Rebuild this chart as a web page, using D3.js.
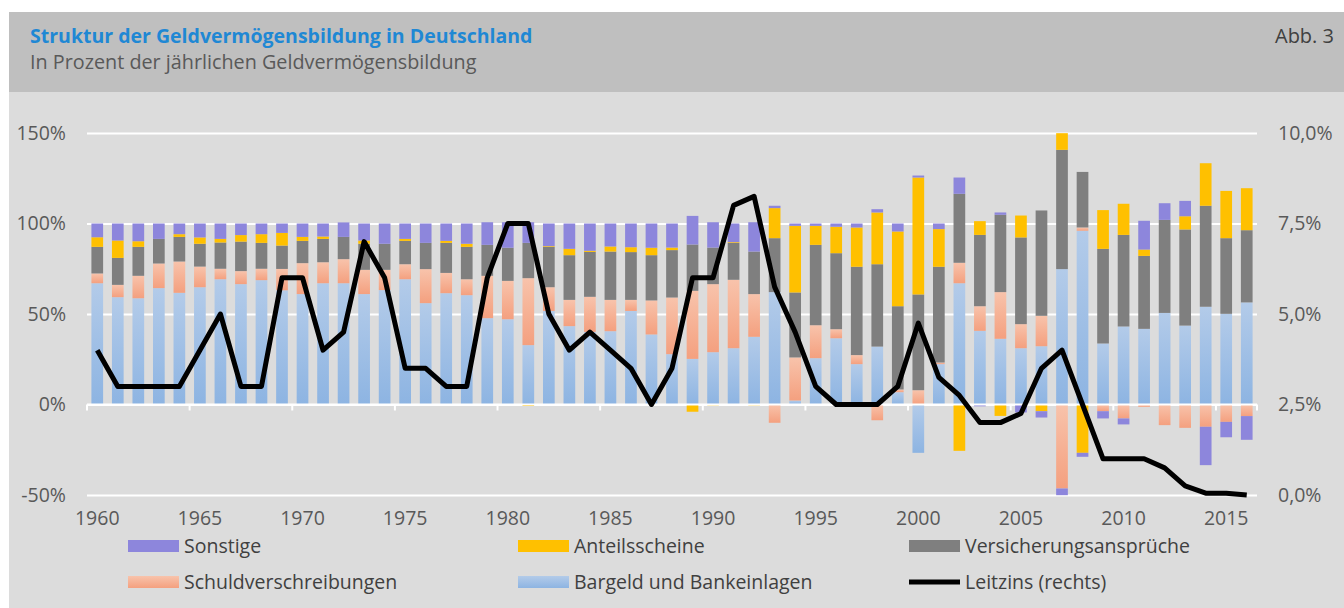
<!DOCTYPE html>
<html>
<head>
<meta charset="utf-8">
<script src="https://cdn.jsdelivr.net/npm/d3@7"></script>
<style>
  html, body { margin: 0; padding: 0; background: #fff; }
  svg { display: block; font-family: 'Open Sans', sans-serif; }
</style>
</head>
<body>
<div id="chart"></div>
<script>
// Data
const years = d3.range(1960, 2017);

const bargeld = [67.0, 59.3, 58.7, 64.3, 61.7, 64.8, 69.2, 66.5, 68.7, 63.1,
  61.0, 67.0, 67.0, 61.0, 63.2, 69.2, 56.0, 61.5, 60.4, 47.7,
  47.1, 32.8, 51.7, 43.3, 40.1, 40.5, 51.7, 38.7, 27.8, 25.2,
  28.9, 31.1, 37.4, 62.1, 2.2, 25.6, 36.6, 22.3, 32.0, 6.8,
  -26.7, 22.3, 67.0, 40.7, 36.3, 31.1, 32.2, 74.8, 96.0, 33.7,
  43.1, 41.8, 50.6, 43.6, 54.0, 50.1, 56.4];

const schuldverschreibungen = [5.4, 6.8, 12.4, 13.6, 17.3, 11.4, 5.8, 7.2, 6.3, 11.8,
  17.1, 11.6, 13.3, 13.4, 11.2, 8.3, 18.8, 11.2, 8.8, 23.4,
  21.2, 37.0, 13.1, 14.5, 19.4, 17.3, 6.1, 18.8, 31.3, 37.6,
  37.6, 37.8, 23.6, -10.1, 23.8, 18.2, 5.0, 5.0, -8.7, 1.5,
  7.9, 0.9, 11.3, 13.6, 25.8, 13.3, 16.8, -46.4, 1.8, -3.7,
  -7.7, -1.3, -11.4, -12.9, -12.3, -9.6, -6.4];

const versicherung = [14.7, 14.9, 16.0, 13.6, 13.6, 12.6, 14.5, 16.3, 14.3, 12.9,
  12.3, 12.9, 12.3, 14.4, 14.4, 12.9, 14.5, 16.6, 17.9, 17.1,
  18.3, 19.5, 22.3, 24.7, 24.8, 26.7, 26.4, 25.0, 26.2, 25.6,
  20.2, 20.4, 23.5, 29.8, 35.9, 44.4, 42.0, 48.8, 45.5, 46.0,
  52.9, 52.9, 38.1, 39.4, 42.7, 47.9, 58.2, 65.9, 30.7, 52.3,
  50.6, 40.3, 51.4, 53.1, 55.8, 41.8, 39.9];

const anteilsscheine = [5.3, 9.6, 3.1, 0, 1.5, 3.5, 2.0, 3.6, 4.8, 7.0,
  2.2, 1.3, 0, 1.8, 0, 1.1, 0, 1.1, 1.7, 0,
  0, -0.8, 0.4, 3.5, 0.6, 2.8, 2.7, 4.1, 1.4, -4.0,
  -0.5, 0.4, -0.5, 16.6, 36.8, 10.5, 14.6, 21.7, 28.6, 41.3,
  64.6, 20.8, -25.6, 7.6, -6.3, 12.1, -3.7, 9.2, -26.7, 21.4,
  17.2, 3.5, 0, 7.3, 23.5, 26.1, 23.2];

const sonstige = [7.6, 9.4, 9.8, 8.5, 5.9, 7.7, 8.5, 6.4, 5.9, 5.2,
  7.4, 7.2, 8.0, 9.4, 11.2, 8.5, 10.7, 9.6, 11.2, 12.5,
  14.1, 11.4, 12.5, 14.0, 15.1, 12.7, 13.1, 13.4, 13.3, 15.8,
  14.0, 10.3, 16.2, 1.3, 1.3, 1.3, 1.8, 2.2, 1.8, 4.4,
  1.1, 3.1, 9.0, -1.0, 1.3, -4.4, -3.5, -3.7, -2.2, -4.0,
  -3.3, 15.9, 9.2, 8.5, -21.2, -8.5, -13.1];

const leitzins = [4, 3, 3, 3, 3, 4, 5, 3, 3, 6,
  6, 4, 4.5, 7, 6, 3.5, 3.5, 3, 3, 6,
  7.5, 7.5, 5, 4, 4.5, 4, 3.5, 2.5, 3.5, 6,
  6, 8, 8.25, 5.75, 4.5, 3, 2.5, 2.5, 2.5, 3,
  4.75, 3.25, 2.75, 2, 2, 2.25, 3.5, 4, 2.5, 1,
  1, 1, 0.75, 0.25, 0.05, 0.05, 0];

const leftTicks = [-50, 0, 50, 100, 150];
const rightTicks = [0, 2.5, 5, 7.5, 10];
const yearTicks = [1960, 1965, 1970, 1975, 1980, 1985, 1990, 1995, 2000, 2005, 2010, 2015];

const seriesKeys = ['bargeld', 'schuld', 'versich', 'anteil', 'sonstige'];
const seriesNames = {
  bargeld: 'Bargeld und Bankeinlagen',
  schuld: 'Schuldverschreibungen',
  versich: 'Versicherungsansprüche',
  anteil: 'Anteilsscheine',
  sonstige: 'Sonstige'
};
const colors = {
  bargeld: 'url(#gradBlue)',
  schuld: 'url(#gradSalmon)',
  versich: '#7f7f7f',
  anteil: '#ffc000',
  sonstige: '#8d86dc'
};

const table = years.map((yr, i) => ({
  year: yr,
  bargeld: bargeld[i],
  schuld: schuldverschreibungen[i],
  versich: versicherung[i],
  anteil: anteilsscheine[i],
  sonstige: sonstige[i]
}));

// Dimensions
const W = 1344, H = 608;
const plot = { left: 87, right: 1257, top: 133, bottom: 495 };

const svg = d3.select('#chart').append('svg')
  .attr('width', W).attr('height', H);

const defs = svg.append('defs');
function grad(id, c1, c2) {
  const g = defs.append('linearGradient').attr('id', id)
    .attr('x1', 0).attr('y1', 0).attr('x2', 0).attr('y2', 1);
  g.append('stop').attr('offset', '0%').attr('stop-color', c1);
  g.append('stop').attr('offset', '100%').attr('stop-color', c2);
}
grad('gradBlue', '#b3cbe9', '#8db4e2');
grad('gradSalmon', '#f8c3ab', '#f4a07f');

// Backgrounds
svg.append('rect').attr('x', 9).attr('y', 12).attr('width', W - 9).attr('height', 80).attr('fill', '#bfbfbf');
svg.append('rect').attr('x', 9).attr('y', 92).attr('width', W - 9).attr('height', H - 92).attr('fill', '#dcdcdc');

// Header
svg.append('text').attr('x', 30).attr('y', 43)
  .attr('font-size', 19.5).attr('font-weight', 700).attr('fill', '#1f88d4')
  .text('Struktur der Geldvermögensbildung in Deutschland');
svg.append('text').attr('x', 30).attr('y', 69)
  .attr('font-size', 19.8).attr('fill', '#595959')
  .text('In Prozent der jährlichen Geldvermögensbildung');
svg.append('text').attr('x', 1334).attr('y', 43).attr('text-anchor', 'end')
  .attr('font-size', 20).attr('fill', '#404040')
  .text('Abb. 3');

// Scales
const x = d3.scaleBand()
  .domain(years)
  .range([plot.left, plot.right])
  .paddingInner(0.43)
  .paddingOuter(0.215);
const step = x.step();

const y = d3.scaleLinear().domain([-50, 150]).range([plot.bottom, plot.top]);
const y2 = d3.scaleLinear().domain([0, 10]).range([plot.bottom, plot.top]);

const deFormat = d3.formatLocale({ decimal: ',', thousands: '.', grouping: [3], currency: ['', ' €'] });

// Gridlines
svg.append('g')
  .attr('class', 'grid')
  .attr('transform', `translate(${plot.left},0)`)
  .call(d3.axisLeft(y).tickValues(leftTicks).tickSize(-(plot.right - plot.left)).tickFormat(''))
  .call(g => g.select('.domain').remove())
  .selectAll('line').attr('stroke', '#ffffff').attr('stroke-width', 2);

// Left axis labels
svg.append('g')
  .attr('transform', `translate(${plot.left},0)`)
  .call(d3.axisLeft(y).tickValues(leftTicks).tickSize(0).tickPadding(21).tickFormat(d => d + '%'))
  .call(g => g.select('.domain').remove())
  .selectAll('text').attr('font-size', 19.5).attr('fill', '#595959').attr('font-family', 'Open Sans, sans-serif');

// Right axis labels
svg.append('g')
  .attr('transform', `translate(${plot.right},0)`)
  .call(d3.axisRight(y2).tickValues(rightTicks).tickSize(0).tickPadding(21).tickFormat(deFormat.format('.1f')))
  .call(g => g.select('.domain').remove())
  .selectAll('text').attr('font-size', 19.5).attr('fill', '#595959').attr('font-family', 'Open Sans, sans-serif')
  .text(d => deFormat.format('.1f')(d) + '%');

// Stacked bars
const stack = d3.stack().keys(seriesKeys).offset(d3.stackOffsetDiverging);
const stacked = stack(table);

svg.append('g')
  .selectAll('g')
  .data(stacked)
  .join('g')
  .attr('fill', d => colors[d.key])
  .selectAll('rect')
  .data(d => d)
  .join('rect')
  .attr('x', d => x(d.data.year))
  .attr('width', x.bandwidth())
  .attr('y', d => y(Math.max(d[0], d[1])))
  .attr('height', d => Math.abs(y(d[0]) - y(d[1])));

// X axis at 0% with ticks on category boundaries
const xAxisG = svg.append('g').attr('transform', `translate(0,${y(0)})`);
xAxisG.append('line')
  .attr('x1', plot.left).attr('x2', plot.right)
  .attr('stroke', '#ffffff').attr('stroke-width', 2);
xAxisG.selectAll('.tick-mark')
  .data(yearTicks.concat([2020]))
  .join('line')
  .attr('class', 'tick-mark')
  .attr('x1', d => d === 2020 ? plot.right : x(d) - step * 0.215)
  .attr('x2', d => d === 2020 ? plot.right : x(d) - step * 0.215)
  .attr('y1', 0).attr('y2', 6)
  .attr('stroke', '#ffffff').attr('stroke-width', 2);

// Year labels at the bottom
svg.append('g')
  .selectAll('text')
  .data(yearTicks)
  .join('text')
  .attr('x', d => x(d) + x.bandwidth() / 2)
  .attr('y', plot.bottom + 30)
  .attr('text-anchor', 'middle')
  .attr('font-size', 19.5)
  .attr('fill', '#595959')
  .text(d => d);

// Leitzins line
const line = d3.line()
  .x((d, i) => x(years[i]) + x.bandwidth() / 2)
  .y(d => y2(d));

svg.append('path')
  .datum(leitzins)
  .attr('fill', 'none')
  .attr('stroke', '#000')
  .attr('stroke-width', 5)
  .attr('stroke-linejoin', 'round')
  .attr('d', line);

// Legend
const legendItems = [
  { key: 'sonstige', col: 0, row: 0 },
  { key: 'anteil', col: 1, row: 0 },
  { key: 'versich', col: 2, row: 0 },
  { key: 'schuld', col: 0, row: 1 },
  { key: 'bargeld', col: 1, row: 1 },
  { key: 'leitzins', col: 2, row: 1 }
];
const colX = [128, 518, 909];
const rowY = [546, 582];

const legend = svg.append('g');
legendItems.forEach(it => {
  const gx = colX[it.col], gy = rowY[it.row];
  if (it.key === 'leitzins') {
    legend.append('line')
      .attr('x1', gx).attr('x2', gx + 51)
      .attr('y1', gy).attr('y2', gy)
      .attr('stroke', '#000').attr('stroke-width', 5);
  } else {
    legend.append('rect')
      .attr('x', gx).attr('y', gy - 6)
      .attr('width', 51).attr('height', 12)
      .attr('fill', colors[it.key]);
  }
  legend.append('text')
    .attr('x', gx + 56).attr('y', gy + 7)
    .attr('font-size', 19.5)
    .attr('fill', '#404040')
    .text(it.key === 'leitzins' ? 'Leitzins (rechts)' : seriesNames[it.key]);
});
</script>
</body>
</html>
